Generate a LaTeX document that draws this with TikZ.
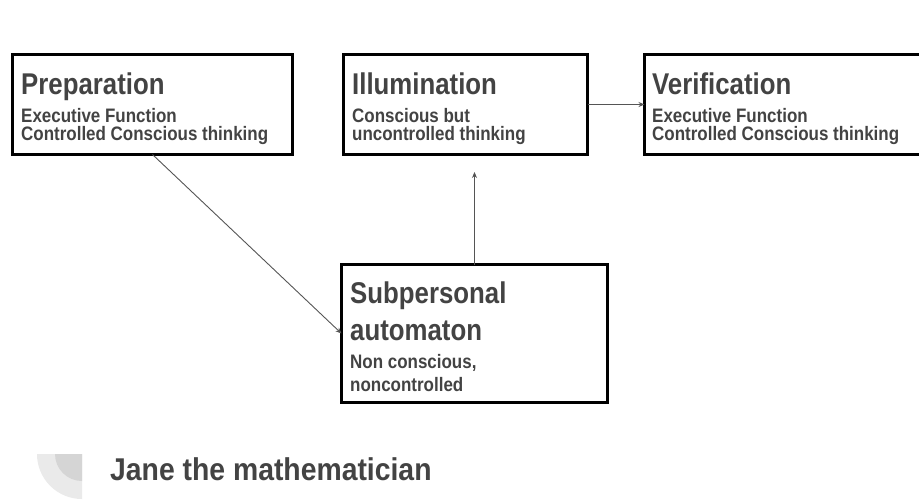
\documentclass[tikz,border=0pt]{standalone}
\usepackage{fontspec}
\setmainfont{Liberation Sans}
\newfontfamily\ttlfont{Liberation Sans Bold}[FakeStretch=0.86]
\newfontfamily\subfont{Liberation Sans Bold}[FakeStretch=0.87]
\newfontfamily\janefont{Liberation Sans Bold}[FakeStretch=0.9]
\usetikzlibrary{arrows.meta}
\definecolor{txt}{HTML}{434343}
\definecolor{arr}{HTML}{555555}
\definecolor{decolight}{HTML}{EAEAEA}
\definecolor{decodark}{HTML}{D5D5D5}
\tikzset{
  stagebox/.style={draw=black, line width=3pt, rectangle, inner sep=0pt, outer sep=0pt, fill=none},
  ttl/.style={anchor=base west, inner sep=0pt, text=txt, font=\ttlfont\fontsize{30}{30}\selectfont},
  sub/.style={anchor=base west, inner sep=0pt, text=txt, font=\subfont\fontsize{19.5}{19.5}\selectfont},
  conn/.style={draw=arr, line width=0.9pt, -{Stealth[length=6pt,width=5pt]}},
}
\begin{document}
\begin{tikzpicture}[x=1pt, y=-1pt]
\clip (0,0) rectangle (919,501);
\fill[white] (0,0) rectangle (919,501);
% decoration
\fill[decolight] (82,454) -- (37,454) arc[start angle=180, end angle=90, radius=45] -- cycle;
\fill[decodark] (82,454) -- (55,454) arc[start angle=180, end angle=90, radius=27] -- cycle;
% boxes
\node[stagebox, minimum width=280pt, minimum height=100pt] (prep) at (152.5,104.5) {};
\node[stagebox, minimum width=244pt, minimum height=100pt] (illum) at (465.5,104.5) {};
\node[stagebox, minimum width=290pt, minimum height=100pt] (verif) at (789.5,104.5) {};
\node[stagebox, minimum width=266pt, minimum height=138pt] (subp) at (474.5,333.5) {};
% texts
\node[ttl] (prepT) at (21,94) {Preparation};
\node[sub] (prepA) at (21,122) {Executive Function};
\node[sub] (prepB) at (21,140) {Controlled Conscious thinking};
\node[ttl] (illumT) at (352,94) {Illumination};
\node[sub] (illumA) at (352,122) {Conscious but};
\node[sub] (illumB) at (352,140) {uncontrolled thinking};
\node[ttl] (verifT) at (652,94) {Verification};
\node[sub] (verifA) at (652,122) {Executive Function};
\node[sub] (verifB) at (652,140) {Controlled Conscious thinking};
\node[ttl] (subpT) at (350,303) {Subpersonal};
\node[ttl] (subpU) at (350,340) {automaton};
\node[sub] (subpA) at (350,368) {Non conscious,};
\node[sub] (subpB) at (350,391) {noncontrolled};
\node[anchor=base west, inner sep=0pt, text=txt, font=\janefont\fontsize{31.5}{31.5}\selectfont] (jane) at (110,480) {Jane the mathematician};
% connectors
\coordinate (illumIn) at (474.5,172);
\draw[conn] (prep.south) -- (subp.west);
\draw[conn] (subp.north) -- (illumIn);
\draw[conn] (illum.east) -- (verif.west);
\end{tikzpicture}
\end{document}
